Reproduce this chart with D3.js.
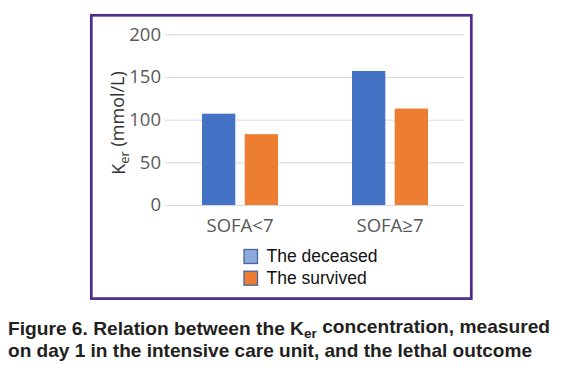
<!DOCTYPE html>
<html>
<head>
<meta charset="utf-8">
<script src="https://cdn.jsdelivr.net/npm/d3@7"></script>
<style>
  html, body { margin: 0; padding: 0; background: #fff; }
</style>
</head>
<body>
<script>

const width = 563;
const height = 375;

// data
const categories = ["SOFA<7", "SOFA\u22657"];
const series = ["The deceased", "The survived"];
const deceased = [107, 157];
const survived = [83, 113];
const yTicks = [0, 50, 100, 150, 200];
const colors = ["#4472c4", "#ed7d31"];
const legendFill = ["#8eaadb", "#ed7d31"];

const plot = {left: 165, right: 465, top: 34.3, bottom: 205};

const svg = d3.select("body")
    .append("svg")
    .attr("width", width)
    .attr("height", height);

// purple frame
svg.append("rect")
    .attr("x", 91.3)
    .attr("y", 15.3)
    .attr("width", 380)
    .attr("height", 283.3)
    .attr("fill", "none")
    .attr("stroke", "#4e2b8c")
    .attr("stroke-width", 2.7);

const y = d3.scaleLinear()
    .domain([0, 200])
    .range([plot.bottom, plot.top]);

const x0 = d3.scaleBand()
    .domain(categories)
    .range([plot.left, plot.right]);

const x1 = d3.scaleBand()
    .domain(series)
    .range([37, 113])
    .paddingInner(0.22);

// gridlines + tick labels
const yAxis = d3.axisLeft(y)
    .tickValues(yTicks)
    .tickSize(-(plot.right - plot.left - 1))
    .tickPadding(4);

svg.append("g")
    .attr("transform", "translate(" + plot.left + ",0)")
    .call(yAxis)
    .call(function (g) { g.select(".domain").remove(); })
    .call(function (g) {
        g.selectAll(".tick line").attr("stroke", "#d9d9d9").attr("stroke-width", 1);
        g.selectAll(".tick text")
            .attr("fill", "#595959")
            .style("font", "18.5px 'Open Sans', sans-serif");
    });

// bars
const rows = categories.map(function (c, i) {
    return {cat: c, values: [deceased[i], survived[i]]};
});

svg.append("g")
    .selectAll("g")
    .data(rows)
    .join("g")
    .attr("transform", function (d) { return "translate(" + x0(d.cat) + ",0)"; })
    .selectAll("rect")
    .data(function (d) { return d.values.map(function (v, j) { return {s: series[j], v: v, j: j}; }); })
    .join("rect")
    .attr("x", function (d) { return x1(d.s); })
    .attr("y", function (d) { return y(d.v); })
    .attr("width", x1.bandwidth())
    .attr("height", function (d) { return y(0) - y(d.v); })
    .attr("fill", function (d) { return colors[d.j]; });

// category labels
svg.append("g")
    .selectAll("text")
    .data(categories)
    .join("text")
    .attr("x", function (d) { return x0(d) + x0.bandwidth() / 2; })
    .attr("y", 231.5)
    .attr("text-anchor", "middle")
    .attr("fill", "#595959")
    .style("font", "18.5px 'Open Sans', sans-serif")
    .text(function (d) { return d; });

// y axis title
const yt = svg.append("text")
    .attr("transform", "translate(125,123) rotate(-90)")
    .attr("text-anchor", "middle")
    .attr("fill", "#333")
    .style("font", "18px 'Open Sans', sans-serif");
yt.append("tspan").text("K");
yt.append("tspan").attr("dy", "0.3em").style("font-size", "13px").text("er");
yt.append("tspan").attr("dy", "-0.3em").text(" (mmol/L)");

// legend
const legend = svg.append("g")
    .selectAll("g")
    .data(series)
    .join("g")
    .attr("transform", function (d, i) { return "translate(244," + (249.5 + i * 21.7) + ")"; });

legend.append("rect")
    .attr("width", 13.5)
    .attr("height", 14)
    .attr("fill", function (d, i) { return legendFill[i]; })
    .attr("stroke", "#4766a6")
    .attr("stroke-width", 1.3);

legend.append("text")
    .attr("x", 22.5)
    .attr("y", 12.5)
    .attr("fill", "#111")
    .style("font", "17.5px 'Liberation Sans', Arial, sans-serif")
    .text(function (d) { return d; });

// caption
const cap = svg.append("g")
    .style("font", "bold 19px 'Liberation Sans', Arial, sans-serif")
    .attr("fill", "#231f20");

const l1 = cap.append("text")
    .attr("x", 8)
    .attr("y", 334.5)
    .attr("textLength", 542)
    .attr("lengthAdjust", "spacingAndGlyphs");
l1.append("tspan").text("Figure 6. Relation between the K");
l1.append("tspan").attr("dy", "0.25em").style("font-size", "13.5px").text("er");
l1.append("tspan").attr("dy", "-0.25em").text(" concentration, measured");

cap.append("text")
    .attr("x", 8)
    .attr("y", 356.8)
    .attr("textLength", 524)
    .attr("lengthAdjust", "spacingAndGlyphs")
    .text("on day 1 in the intensive care unit, and the lethal outcome");

</script>
</body>
</html>
